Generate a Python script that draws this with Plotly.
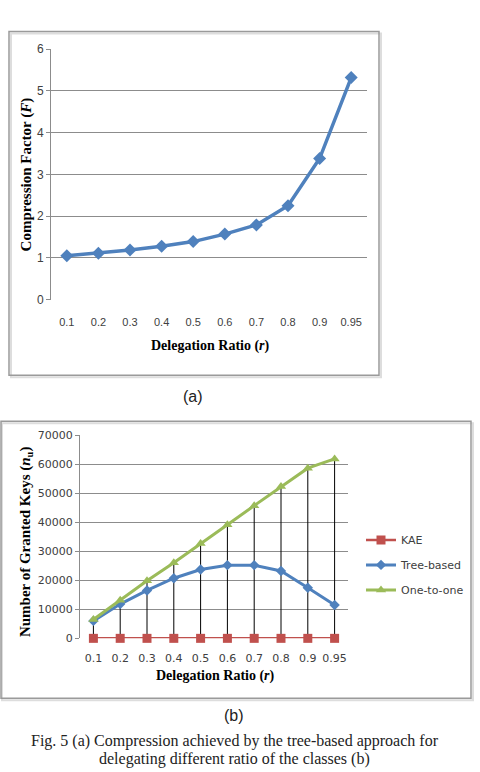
import plotly.graph_objects as go

# ---- data ----
ratios = ["0.1", "0.2", "0.3", "0.4", "0.5", "0.6", "0.7", "0.8", "0.9", "0.95"]
compression = [1.05, 1.11, 1.19, 1.28, 1.39, 1.57, 1.79, 2.25, 3.38, 5.32]
kae = [0, 0, 0, 0, 0, 0, 0, 0, 0, 0]
tree_based = [6000, 11800, 16500, 20700, 23700, 25200, 25200, 23200, 17400, 11500]
one_to_one = [6500, 13100, 19800, 26000, 32700, 39100, 45700, 52300, 58600, 61800]

W, H = 480, 772
BLUE = "#4F81BD"
RED = "#C0504D"
GREEN = "#9BBB59"
GRID = "#8c8c8c"
TICKC = "#404040"


def px(x):
    return x / W


def py(y):
    return 1 - y / H


fig = go.Figure()

# ---- chart (a) ----
fig.add_trace(go.Scatter(
    x=ratios, y=compression, mode="lines+markers",
    line=dict(color=BLUE, width=3.5),
    marker=dict(symbol="diamond", size=10, color=BLUE),
    xaxis="x", yaxis="y", showlegend=False, cliponaxis=False))

# ---- chart (b) ----
drop_x, drop_y = [], []
for r, lo, hi in zip(ratios, kae, one_to_one):
    drop_x += [r, r, None]
    drop_y += [lo, hi, None]
fig.add_trace(go.Scatter(
    x=drop_x, y=drop_y, mode="lines", line=dict(color="black", width=1),
    xaxis="x2", yaxis="y2", showlegend=False, hoverinfo="skip"))
fig.add_trace(go.Scatter(
    x=ratios, y=kae, name="KAE", mode="lines+markers",
    line=dict(color=RED, width=2.5),
    marker=dict(symbol="square", size=9, color=RED),
    xaxis="x2", yaxis="y2", legendgroup="a", cliponaxis=False))
fig.add_trace(go.Scatter(
    x=ratios, y=tree_based, name="Tree-based", mode="lines+markers",
    line=dict(color=BLUE, width=3),
    marker=dict(symbol="diamond", size=8, color=BLUE),
    xaxis="x2", yaxis="y2", legendgroup="b", cliponaxis=False))
fig.add_trace(go.Scatter(
    x=ratios, y=one_to_one, name="One-to-one", mode="lines+markers",
    line=dict(color=GREEN, width=3),
    marker=dict(symbol="triangle-up", size=9, color=GREEN),
    xaxis="x2", yaxis="y2", legendgroup="c", cliponaxis=False))

tickfont = dict(family="Liberation Sans", size=11, color=TICKC)

fig.update_layout(
    width=W, height=H,
    margin=dict(l=0, r=0, t=0, b=0),
    paper_bgcolor="white", plot_bgcolor="white",
    xaxis=dict(domain=[px(51), px(367)], type="category", range=[-0.5, 9.5],
               showgrid=False, showline=False, ticks="", tickfont=tickfont,
               ticklabelstandoff=14, anchor="y", zeroline=False),
    yaxis=dict(domain=[py(298), py(43)], range=[0, 6], dtick=1,
               showgrid=True, gridcolor=GRID, gridwidth=1,
               showline=True, linecolor=GRID, linewidth=1,
               ticks="outside", ticklen=4, tickcolor=GRID,
               tickfont=dict(family="Liberation Sans", size=12, color=TICKC),
               anchor="x", zeroline=False),
    xaxis2=dict(domain=[px(80), px(348)], type="category", range=[-0.5, 9.5],
                showgrid=False, showline=False, ticks="",
                tickfont=dict(family="DejaVu Sans", size=11, color=TICKC),
                ticklabelstandoff=12, anchor="y2", zeroline=False),
    yaxis2=dict(domain=[py(643), py(436)], range=[0, 70000], dtick=10000,
                tickformat="d",
                showgrid=True, gridcolor=GRID, gridwidth=1,
                showline=True, linecolor=GRID, linewidth=1,
                ticks="outside", ticklen=4, tickcolor=GRID,
                tickfont=dict(family="DejaVu Sans", size=11, color=TICKC),
                anchor="x2", zeroline=False),
    legend=dict(x=px(361), y=py(528), xanchor="left", yanchor="top",
                font=dict(family="DejaVu Sans", size=11, color=TICKC),
                tracegroupgap=6, bgcolor="rgba(0,0,0,0)"),
)

# frames
fig.add_shape(type="rect", xref="paper", yref="paper",
              x0=px(11), x1=px(381), y0=py(377), y1=py(27),
              line=dict(color="#dddddd", width=2), layer="below")
fig.add_shape(type="rect", xref="paper", yref="paper",
              x0=px(9), x1=px(379), y0=py(375), y1=py(25),
              line=dict(color="#9a9a9a", width=1.5), layer="below")
fig.add_shape(type="rect", xref="paper", yref="paper",
              x0=px(2), x1=px(473), y0=py(706), y1=py(424),
              line=dict(color="#dddddd", width=2), layer="below")
fig.add_shape(type="rect", xref="paper", yref="paper",
              x0=px(1), x1=px(471), y0=py(704), y1=py(422),
              line=dict(color="#9a9a9a", width=1.5), layer="below")

annots = [
    dict(x=px(26), y=py(170.5), text="<b>Compression Factor (<i>F</i>)</b>",
         textangle=-90, font=dict(family="Liberation Serif", size=15, color="black")),
    dict(x=px(210), y=py(345), text="<b>Delegation Ratio (<i>r</i>)</b>",
         font=dict(family="Liberation Serif", size=14, color="black")),
    dict(x=px(26), y=py(545), text="<b>Number of Granted Keys (<i>n</i><sub>u</sub>)</b>",
         textangle=-90, font=dict(family="Liberation Serif", size=15, color="black")),
    dict(x=px(215), y=py(681), text="<b>Delegation Ratio (<i>r</i>)</b>",
         font=dict(family="Liberation Serif", size=14, color="black")),
    dict(x=px(193), y=py(397), text="(a)",
         font=dict(family="Liberation Sans", size=16, color="#222222")),
    dict(x=px(234), y=py(722), text="(b)",
         font=dict(family="Liberation Sans", size=16, color="#222222")),
    dict(x=px(235), y=py(748), text="Fig. 5 (a) Compression achieved by the tree-based approach for",
         font=dict(family="Liberation Serif", size=16, color="#222222")),
    dict(x=px(234), y=py(766), text="delegating different ratio of the classes (b)",
         font=dict(family="Liberation Serif", size=16, color="#222222")),
]
for a in annots:
    a.update(xref="paper", yref="paper", showarrow=False,
             xanchor="center", yanchor="middle")
    fig.add_annotation(**a)

fig.write_html("out.html")
